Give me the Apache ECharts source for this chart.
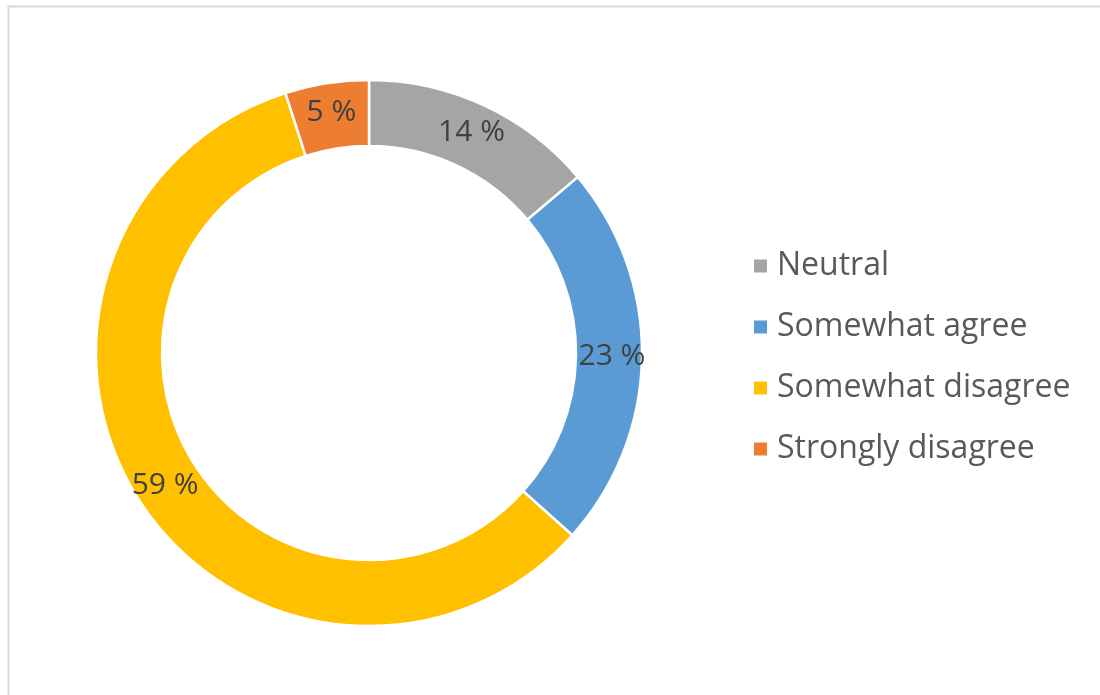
<!DOCTYPE html>
<html>
<head>
<meta charset="utf-8">
<script src="https://cdn.jsdelivr.net/npm/echarts@6/dist/echarts.min.js"></script>
<style>
  html, body { margin: 0; padding: 0; background: #fff; }
  #chart { width: 1100px; height: 695px; }
</style>
</head>
<body>
<div id="chart"></div>
<script>
var categories = ['Neutral', 'Somewhat agree', 'Somewhat disagree', 'Strongly disagree'];
var values = [14, 23, 59, 5];
var colors = ['#a5a5a5', '#5b9bd5', '#ffc000', '#ed7d31'];

var chart = echarts.init(document.getElementById('chart'));
var option = {
  animation: false,
  color: colors,
  graphic: [{
    type: 'rect',
    shape: { x: 8.5, y: 6.5, width: 1200, height: 800 },
    style: { fill: 'none', stroke: '#d9d9d9', lineWidth: 2 },
    silent: true
  }],
  legend: {
    orient: 'vertical',
    left: 747,
    top: 245,
    itemWidth: 15,
    itemHeight: 15,
    itemGap: 29,
    icon: 'rect',
    textStyle: { fontFamily: 'Open Sans', fontSize: 32, color: '#595959', padding: [0, 0, 0, 4] },
    data: categories
  },
  series: [{
    type: 'pie',
    center: [369, 353],
    radius: [207, 273],
    startAngle: 90,
    clockwise: true,
    avoidLabelOverlap: false,
    itemStyle: { borderColor: '#fff', borderWidth: 2.5 },
    label: {
      show: true,
      position: 'inside',
      formatter: '{c} %',
      fontFamily: 'Open Sans',
      fontSize: 30,
      color: '#404040'
    },
    labelLine: { show: false },
    data: categories.map(function (c, i) {
      return { name: c, value: values[i] };
    })
  }]
};
chart.setOption(option);
window.addEventListener('resize', function () {
  chart.resize();
});
</script>
</body>
</html>
